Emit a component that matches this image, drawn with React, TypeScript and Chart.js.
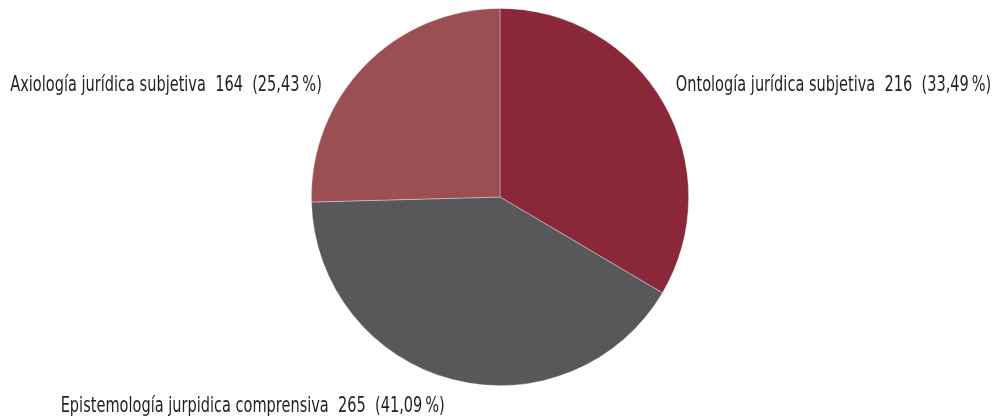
import React, { useEffect, useRef } from "react";
import { Chart, registerables } from "chart.js";

Chart.register(...registerables);

const categories = [
  "Ontología jurídica subjetiva",
  "Epistemología jurpidica comprensiva",
  "Axiología jurídica subjetiva",
];
const values = [216, 265, 164];
const percents = ["33,49", "41,09", "25,43"];
const colors = ["#8A2739", "#58585A", "#9B4F53"];

// label placement relative to each slice's outer mid-point (style only)
const labelStyle = [
  { dx: 12, dy: -18, align: "left" },
  { dx: -8, dy: 27, align: "right" },
  { dx: -43, dy: 20, align: "right" },
];

const labelPlugin = {
  id: "outerLabels",
  afterDatasetsDraw(chart: any) {
    const ctx = chart.ctx;
    const meta = chart.getDatasetMeta(0);
    ctx.save();
    ctx.fillStyle = "#231F20";
    ctx.textBaseline = "middle";
    meta.data.forEach((arc: any, i: number) => {
      const { x, y, startAngle, endAngle, outerRadius } = arc.getProps(
        ["x", "y", "startAngle", "endAngle", "outerRadius"],
        true
      );
      const mid = (startAngle + endAngle) / 2;
      const px = x + Math.cos(mid) * outerRadius;
      const py = y + Math.sin(mid) * outerRadius;
      const st = labelStyle[i];
      const text = `${categories[i]}  ${values[i]}  (${percents[i]}\u2009%)`;
      const sx = 0.77;
      ctx.save();
      ctx.translate(px + st.dx, py + st.dy);
      ctx.scale(sx, 1);
      ctx.font = '21px "Liberation Sans Narrow", "DejaVu Sans Condensed", sans-serif';
      ctx.textAlign = st.align;
      ctx.fillText(text, 0, 0);
      ctx.restore();
    });
    ctx.restore();
  },
};

export default function App() {
  const ref = useRef<HTMLCanvasElement>(null);
  useEffect(() => {
    document.body.style.margin = "0";
    const chart = new Chart(ref.current!, {
      type: "pie",
      data: {
        labels: categories,
        datasets: [
          {
            data: values,
            backgroundColor: colors,
            borderColor: "rgba(255,255,255,0.45)",
            borderWidth: 0.75,
          },
        ],
      },
      options: {
        animation: false,
        responsive: true,
        maintainAspectRatio: false,
        layout: { padding: { top: 8, bottom: 34, left: 1, right: 0 } },
        plugins: {
          legend: { display: false },
          tooltip: { enabled: false },
        },
      },
      plugins: [labelPlugin],
    });
    return () => chart.destroy();
  }, []);
  return (
    <div style={{ position: "relative", width: 999, height: 420, background: "#fff" }}>
      <canvas ref={ref} />
    </div>
  );
}
